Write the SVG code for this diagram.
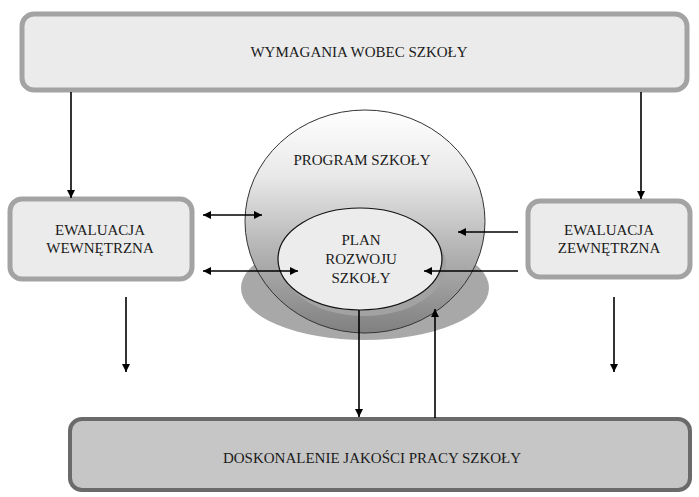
<svg xmlns="http://www.w3.org/2000/svg" width="699" height="497" viewBox="0 0 699 497">
<defs>
<style>
.t{font-family:'Liberation Serif',Tinos,'Times New Roman','Noto Serif','DejaVu Serif',serif;font-size:15px;fill:#1a1a1a;text-anchor:middle}
.box{fill:#ebebeb;stroke:#a3a3a3;stroke-width:5}
.line{stroke:#000;stroke-width:1.6;fill:none}
</style>
<linearGradient id="g" x1="0" y1="0" x2="0" y2="1">
<stop offset="0" stop-color="#ffffff"/>
<stop offset="0.3" stop-color="#e8e8e8"/>
<stop offset="0.6" stop-color="#b8b8b8"/>
<stop offset="1" stop-color="#808080"/>
</linearGradient>
<marker id="a" viewBox="0 0 10 10" refX="10" refY="5" markerWidth="8" markerHeight="8" orient="auto-start-reverse" markerUnits="userSpaceOnUse">
<path d="M0,0 L10,5 L0,10 z" fill="#000"/>
</marker>
</defs>
<g id="wymagania">
<rect class="box" x="22" y="14" width="665" height="76" rx="12"/>
<text class="t" x="359" y="57">WYMAGANIA WOBEC SZKOŁY</text>
</g>
<g id="ewaluacja-wewnetrzna">
<rect class="box" x="10" y="199" width="182" height="80" rx="12"/>
<text class="t" x="100" y="235">EWALUACJA</text>
<text class="t" x="100" y="253">WEWNĘTRZNA</text>
</g>
<g id="ewaluacja-zewnetrzna">
<rect class="box" x="528" y="201" width="162" height="76" rx="12"/>
<text class="t" x="609" y="235">EWALUACJA</text>
<text class="t" x="609" y="253">ZEWNĘTRZNA</text>
</g>
<g id="program-szkoly">
<ellipse cx="365" cy="288" rx="124" ry="52" fill="#a8a8a8"/>
<ellipse cx="365" cy="221.5" rx="120" ry="111.5" fill="url(#g)" stroke="#333" stroke-width="1"/>
<text class="t" x="362" y="165">PROGRAM SZKOŁY</text>
</g>
<g id="plan-rozwoju">
<ellipse cx="364" cy="265" rx="82" ry="51" fill="#a2a2a2"/>
<ellipse cx="360" cy="259" rx="82" ry="51" fill="#ececec" stroke="#111" stroke-width="1.2"/>
<text class="t" x="361" y="245">PLAN</text>
<text class="t" x="361" y="264">ROZWOJU</text>
<text class="t" x="361" y="283">SZKOŁY</text>
</g>
<g id="doskonalenie">
<rect x="70" y="419" width="620" height="71" rx="12" fill="#c6c6c6" stroke="#6a6a6a" stroke-width="4"/>
<text class="t" x="372" y="463">DOSKONALENIE JAKOŚCI PRACY SZKOŁY</text>
</g>
<g id="connectors">
<line class="line" x1="71" y1="92" x2="71" y2="198" marker-end="url(#a)"/>
<line class="line" x1="641" y1="92" x2="641" y2="199" marker-end="url(#a)"/>
<line class="line" x1="203" y1="215" x2="262" y2="215" marker-start="url(#a)" marker-end="url(#a)"/>
<line class="line" x1="203" y1="271" x2="298" y2="271" marker-start="url(#a)" marker-end="url(#a)"/>
<line class="line" x1="518" y1="232" x2="458" y2="232" marker-end="url(#a)"/>
<line class="line" x1="518" y1="271" x2="424" y2="271" marker-end="url(#a)"/>
<line class="line" x1="126" y1="297" x2="126" y2="372" marker-end="url(#a)"/>
<line class="line" x1="614" y1="297" x2="614" y2="372" marker-end="url(#a)"/>
<line class="line" x1="359" y1="310" x2="359" y2="417" marker-end="url(#a)"/>
<line class="line" x1="435" y1="418" x2="435" y2="309" marker-end="url(#a)"/>
</g>
</svg>
